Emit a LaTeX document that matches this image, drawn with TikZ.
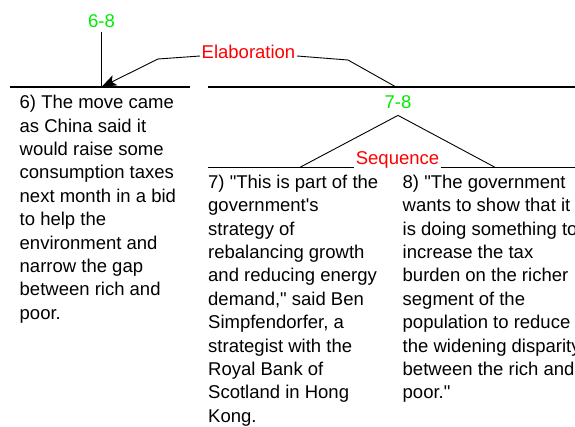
\documentclass[tikz,border=0pt]{standalone}
\usepackage{fontspec}
\setmainfont{Liberation Sans}
\usetikzlibrary{arrows.meta}
\definecolor{lblgreen}{RGB}{0,235,0}
\definecolor{lblred}{RGB}{255,0,0}
\begin{document}
\begin{tikzpicture}[x=1pt,y=-1pt,
  txt/.style={font=\fontsize{18.5}{23.4}\selectfont, inner sep=0pt, anchor=north west, align=left},
  spanlbl/.style={font=\fontsize{18.5}{23.4}\selectfont, text=lblgreen, inner sep=0pt, anchor=base},
  rellbl/.style={font=\fontsize{18.5}{23.4}\selectfont, text=lblred, inner xsep=1.5pt, inner ysep=0pt, anchor=base},
  treeline/.style={line width=1.2pt, black},
  relline/.style={line width=0.9pt, black},
  ]
\useasboundingbox (0,0) rectangle (575,426);
\clip (0,0) rectangle (575,426);
\fill[white] (0,0) rectangle (575,426);

% span labels
\node[spanlbl] (l68) at (101.5,27.5) {6-8};
\node[spanlbl] (l78) at (398,108.5) {7-8};

% span lines
\coordinate (h6a) at (10,87);
\coordinate (h6b) at (190,87);
\coordinate (h78a) at (208,87);
\coordinate (h78b) at (580,87);
\coordinate (top68) at (101.5,87);
\coordinate (top78) at (396,87);
\draw[treeline] (h6a) -- (h6b);
\draw[treeline] (h78a) -- (h78b);
\draw[treeline] ([yshift=-4.5pt]l68.south) -- (top68);

% Elaboration relation
\node[rellbl] (elab) at (248.5,58.5) {Elaboration};
\coordinate (eL) at (158,59);
\coordinate (eR) at (348,60);
\draw[relline, -{Stealth[length=15pt,width=11pt,inset=3.5pt]}]
  ([yshift=2.5pt]elab.base west) -- (eL) -- (top68);
\draw[relline] ([yshift=2.5pt]elab.base east) -- (eR) -- (top78);

% Sequence relation
\node[rellbl] (seq) at (397.5,164) {Sequence};
\coordinate (h7a) at (208,167.3);
\coordinate (h8b) at (580,167.3);
\coordinate (foot7) at (300,167.3);
\coordinate (foot8) at (495,167.3);
\draw[treeline] (h7a) -- ([yshift=-3.3pt]seq.base west);
\draw[treeline] ([yshift=-3.3pt]seq.base east) -- (h8b);
\draw[relline] (foot7) -- ([yshift=-6.5pt]l78.south) -- (foot8);

% texts
\node[txt] (t6) at (19.5,93.5) {\rule{0pt}{15pt}6) The move came\\
as China said it\\
would raise some\\
consumption taxes\\
next month in a bid\\
to help the\\
environment and\\
narrow the gap\\
between rich and\\
poor.};

\node[txt] (t7) at (208,173) {\rule{0pt}{15pt}7) \textquotedbl This is part of the\\
government\textquotesingle s\\
strategy of\\
rebalancing growth\\
and reducing energy\\
demand,\textquotedbl{} said Ben\\
Simpfendorfer, a\\
strategist with the\\
Royal Bank of\\
Scotland in Hong\\
Kong.};

\node[txt] (t8) at (402.5,173) {\rule{0pt}{15pt}8) \textquotedbl The government\\
wants to show that it\\
is doing something to\\
increase the tax\\
burden on the richer\\
segment of the\\
population to reduce\\
the widening disparity\\
between the rich and\\
poor.\textquotedbl};
\end{tikzpicture}
\end{document}
